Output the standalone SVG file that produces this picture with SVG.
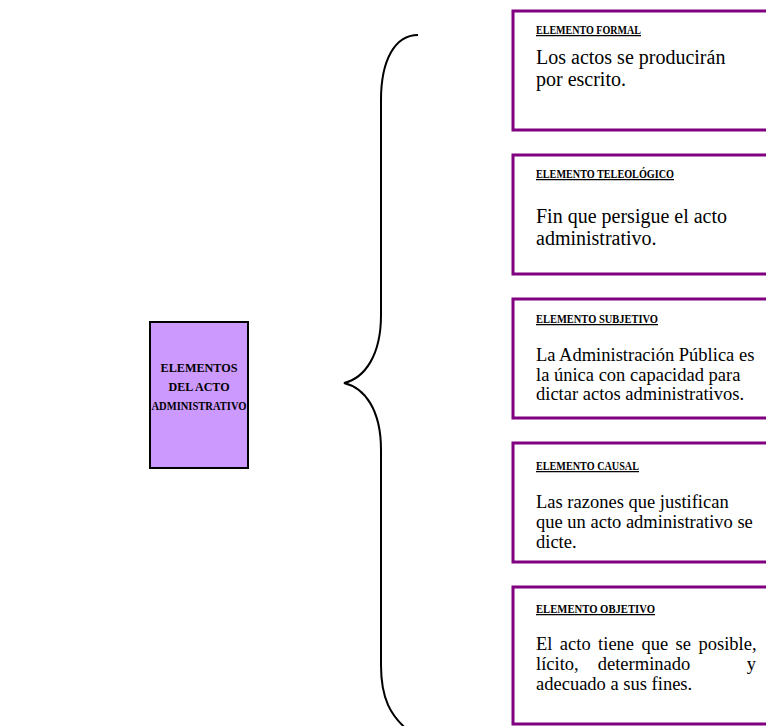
<svg xmlns="http://www.w3.org/2000/svg" width="766" height="726" viewBox="0 0 766 726">
<style>
.box{fill:#fff;stroke:#800080;stroke-width:3}
.hd{font-family:"Liberation Serif","Times New Roman",serif;font-weight:bold;font-size:12.5px;text-decoration:underline;fill:#000}
.bl{font-family:"Liberation Serif","Times New Roman",serif;font-size:20px;fill:#000}
.bs{font-family:"Liberation Serif","Times New Roman",serif;font-size:18.5px;fill:#000}
.mt{font-family:"Liberation Serif","Times New Roman",serif;font-weight:bold;font-size:13.5px;fill:#000}
.con{fill:none;stroke:#000;stroke-width:2}
</style>
<rect width="766" height="726" fill="#fff"/>
<g id="main">
<rect x="150" y="322" width="98" height="146" fill="#cc99ff" stroke="#000" stroke-width="2"/>
<text class="mt" x="199" y="372" text-anchor="middle" textLength="77" lengthAdjust="spacingAndGlyphs">ELEMENTOS</text>
<text class="mt" x="199" y="391" text-anchor="middle" textLength="61" lengthAdjust="spacingAndGlyphs">DEL ACTO</text>
<text class="mt" x="199" y="410" text-anchor="middle" textLength="95" lengthAdjust="spacingAndGlyphs">ADMINISTRATIVO</text>
</g>
<g id="connectors">
<path class="con" d="M418 35 C395 35 381 60 381 100 L381 315 C381 355 365 378 344 383 C365 388 381 410 381 450 L381 665 C381 698 390 716 410 732"/>
</g>
<g id="formal">
<rect class="box" x="513" y="11" width="270" height="119"/>
<text class="hd" x="536" y="34" textLength="105" lengthAdjust="spacingAndGlyphs">ELEMENTO FORMAL</text>
<text class="bl" x="536" y="64">Los actos se producirán</text>
<text class="bl" x="536" y="86">por escrito.</text>
</g>
<g id="teleologico">
<rect class="box" x="513" y="155" width="270" height="119"/>
<text class="hd" x="536" y="178" textLength="138" lengthAdjust="spacingAndGlyphs">ELEMENTO TELEOLÓGICO</text>
<text class="bl" x="536" y="223">Fin que persigue el acto</text>
<text class="bl" x="536" y="245">administrativo.</text>
</g>
<g id="subjetivo">
<rect class="box" x="513" y="299" width="270" height="119"/>
<text class="hd" x="536" y="323" textLength="122" lengthAdjust="spacingAndGlyphs">ELEMENTO SUBJETIVO</text>
<text class="bs" x="536" y="361">La Administración Pública es</text>
<text class="bs" x="536" y="381">la única con capacidad para</text>
<text class="bs" x="536" y="400">dictar actos administrativos.</text>
</g>
<g id="causal">
<rect class="box" x="513" y="443" width="270" height="119"/>
<text class="hd" x="536" y="470" textLength="103" lengthAdjust="spacingAndGlyphs">ELEMENTO CAUSAL</text>
<text class="bs" x="536" y="508">Las razones que justifican</text>
<text class="bs" x="536" y="528">que un acto administrativo se</text>
<text class="bs" x="536" y="548">dicte.</text>
</g>
<g id="objetivo">
<rect class="box" x="513" y="587" width="270" height="137"/>
<text class="hd" x="536" y="613" textLength="119" lengthAdjust="spacingAndGlyphs">ELEMENTO OBJETIVO</text>
<text class="bs" x="536" y="650" word-spacing="2.8">El acto tiene que se posible,</text>
<text class="bs" x="536" y="670">lícito,</text>
<text class="bs" x="644" y="670" text-anchor="middle">determinado</text>
<text class="bs" x="756" y="670" text-anchor="end">y</text>
<text class="bs" x="536" y="690">adecuado a sus fines.</text>
</g>
</svg>
